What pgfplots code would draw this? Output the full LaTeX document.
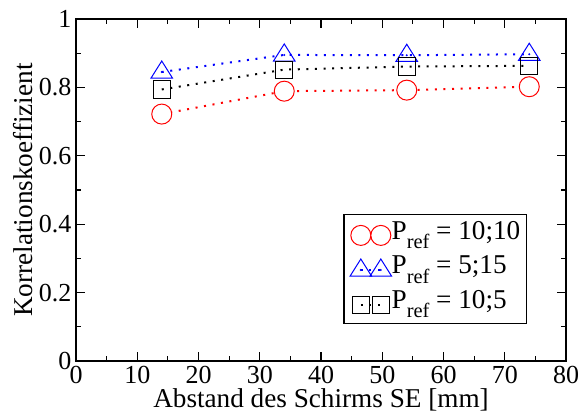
\documentclass[border=0pt]{standalone}
\usepackage{pgfplots}
\pgfplotsset{compat=1.18}
\usepackage{fontspec}
\setmainfont{Liberation Serif}[Ligatures=NoCommon]
\pgfdeclareplotmark{ocirc}{%
  \pgfpathcircle{\pgfpointorigin}{\pgfplotmarksize}\pgfusepathqfillstroke
  \pgfpathcircle{\pgfpointorigin}{0.55pt}\pgfusepathqfill}
\pgfdeclareplotmark{otri}{%
  \pgfpathmoveto{\pgfqpoint{0pt}{1.1\pgfplotmarksize}}%
  \pgfpathlineto{\pgfqpoint{-1.08\pgfplotmarksize}{-0.62\pgfplotmarksize}}%
  \pgfpathlineto{\pgfqpoint{1.08\pgfplotmarksize}{-0.62\pgfplotmarksize}}%
  \pgfpathclose\pgfusepathqstroke
  \pgfpathcircle{\pgfpointorigin}{0.55pt}\pgfusepathqfill}
\pgfdeclareplotmark{osq}{%
  \pgfpathrectangle{\pgfqpoint{-\pgfplotmarksize}{-\pgfplotmarksize}}{\pgfqpoint{2\pgfplotmarksize}{2\pgfplotmarksize}}\pgfusepathqfillstroke
  \pgfpathcircle{\pgfpointorigin}{0.55pt}\pgfusepathqfill}
\newcommand{\Pref}{P\raisebox{-4.8pt}{\fontsize{10.2}{11}\selectfont ref}}
\begin{document}
\fontsize{13.6}{16}\selectfont
\begin{tikzpicture}
\begin{axis}[
  name=ax,
  scale only axis,
  width=245pt, height=171pt,
  xmin=0, xmax=80, ymin=0, ymax=1,
  xtick={0,10,...,80}, ytick={0,0.2,0.4,0.6,0.8,1},
  yticklabels={0,0.2,0.4,0.6,0.8,1},
  minor x tick num=1, minor y tick num=1,
  tick align=inside,
  major tick length=4.5pt, minor tick length=2.7pt,
  axis line style={line width=0.9pt},
  every tick/.style={line width=0.6pt, black},
  /pgf/number format/assume math mode=true,
  ticklabel style={font=\fontsize{13}{15}\selectfont},
  xticklabel style={anchor=base, yshift=-11pt, inner sep=0pt},
  yticklabel style={anchor=east, xshift=-2.1pt, inner sep=0pt},
  xlabel={Abstand des Schirms SE [mm]},
  ylabel={Korrelationskoeffizient},
  label style={font=\fontsize{13.6}{16}\selectfont, inner sep=0pt},
  xlabel style={at={(rel axis cs:0.5,-0.1365)}, anchor=base},
  ylabel style={at={(rel axis cs:-0.0878,0.5)}, anchor=base},
  legend style={at={(rel axis cs:0.9204,0.1082)}, anchor=south east, draw=black, line width=0.7pt,
    font=\fontsize{13.6}{16}\selectfont, inner xsep=3pt, inner ysep=1.2pt, row sep=0pt,
    nodes={inner sep=0pt, text height=11pt, text depth=6.3pt}},
  legend cell align=left,
  legend image code/.code={\draw[#1] plot coordinates {(0pt,-0.5pt) (10pt,-0.5pt)};},
]
\addplot[red, line width=1pt, dash pattern=on 1pt off 3.3pt, mark=ocirc, mark size=5pt,
  mark options={solid, fill=white, line width=0.5pt}]
  coordinates {(14,0.722) (34,0.789) (54,0.792) (74,0.802)};
\addlegendentry{\Pref{} = 10;10}
\addplot[blue, line width=1pt, dash pattern=on 1pt off 3.3pt, mark=otri, mark size=5pt,
  mark options={solid, line width=0.5pt}]
  coordinates {(14,0.845) (34,0.895) (54,0.894) (74,0.897)};
\addlegendentry{\Pref{} = 5;15}
\addplot[black, line width=1pt, dash pattern=on 1pt off 3.3pt, mark=osq, mark size=4.3pt,
  mark options={solid, fill=white, fill opacity=0, line width=0.5pt}]
  coordinates {(14,0.794) (34,0.852) (54,0.861) (74,0.863)};
\addlegendentry{\Pref{} = 10;5}
\end{axis}
\pgfresetboundingbox
\path[use as bounding box] ([shift={(-38pt,-26pt)}]ax.south west) rectangle ([shift={(7pt,9.5pt)}]ax.north east);
\end{tikzpicture}
\end{document}
